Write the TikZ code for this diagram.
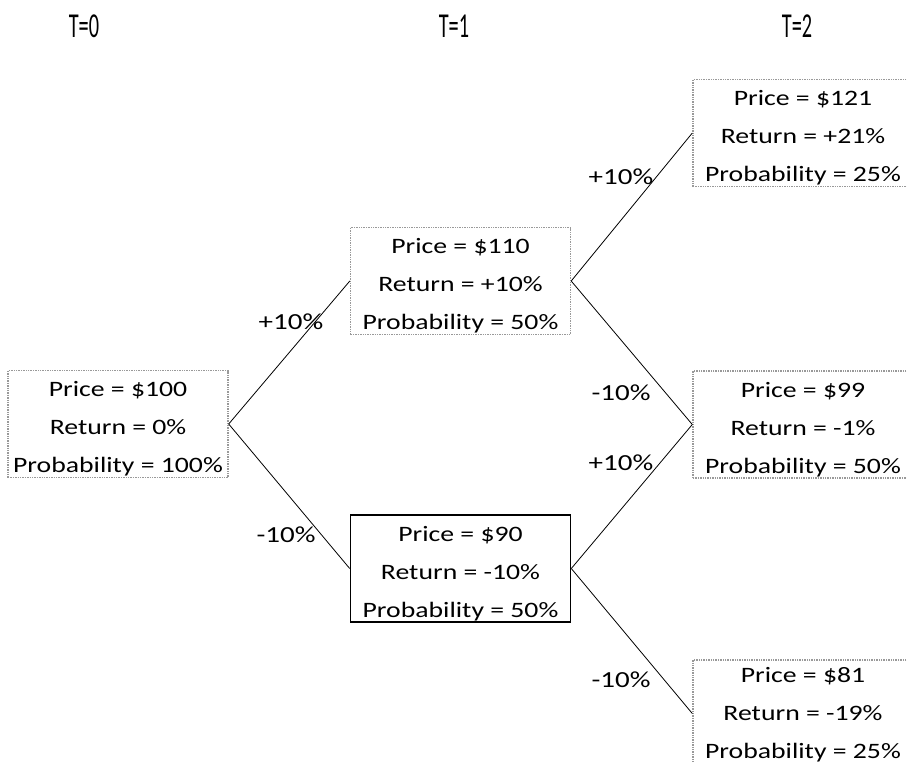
\documentclass[tikz,border=0pt]{standalone}
\usepackage{fontspec}
\setmainfont{Carlito}
\newcommand{\wl}[1]{\scalebox{1.26}[1]{#1}}
\newcommand{\wh}[1]{\scalebox{0.58}[1]{\fontsize{35}{35}\selectfont #1}}
\begin{document}
\begin{tikzpicture}[x=1pt,y=-1pt,
  box/.style={draw=gray!80, densely dotted, line width=1.4pt, minimum width=220pt, minimum height=107pt, inner sep=0pt},
  solidbox/.style={box, draw=black, solid, line width=1.6pt},
  btxt/.style={inner sep=0pt, align=center, font=\fontsize{22}{38}\selectfont, text=black, yshift=-5pt},
  lbl/.style={font=\fontsize{23}{24}\selectfont, inner sep=0pt},
  hdr/.style={inner sep=0pt},
  edge/.style={draw=black, line width=0.8pt}]
\useasboundingbox (0,0) rectangle (907,761);
\clip (0,0) rectangle (907,761);
\node[hdr] (h0) at (84,26) {\wh{T=0}};
\node[hdr] (h1) at (454,26) {\wh{T=1}};
\node[hdr] (h2) at (797,26) {\wh{T=2}};

\node[box, label={[btxt]center:\wl{Price = \$100}\\\wl{Return = 0\%}\\\wl{Probability = 100\%}}] (b0) at (118,424) {};
\node[box, label={[btxt]center:\wl{Price = \$110}\\\wl{Return = +10\%}\\\wl{Probability = 50\%}}] (b1u) at (460.5,281) {};
\node[solidbox, label={[btxt]center:\wl{Price = \$90}\\\wl{Return = -10\%}\\\wl{Probability = 50\%}}] (b1d) at (460.5,568.5) {};
\node[box, label={[btxt]center:\wl{Price = \$121}\\\wl{Return = +21\%}\\\wl{Probability = 25\%}}] (b2u) at (803,133) {};
\node[box, label={[btxt]center:\wl{Price = \$99}\\\wl{Return = -1\%}\\\wl{Probability = 50\%}}] (b2m) at (803,424.5) {};
\node[box, label={[btxt, yshift=4pt]center:\wl{Price = \$81}\\\wl{Return = -19\%}\\\wl{Probability = 25\%}}] (b2d) at (803,713.5) {};

\draw[edge] (b0.east) -- (b1u.west);
\draw[edge] (b0.east) -- (b1d.west);
\draw[edge] (b1u.east) -- (b2u.west);
\draw[edge] (b1u.east) -- (b2m.west);
\draw[edge] (b1d.east) -- (b2m.west);
\draw[edge] (b1d.east) -- (b2d.west);

\node[lbl] (l1) at (291,322) {\wl{+10\%}};
\node[lbl] (l2) at (286,535) {\wl{-10\%}};
\node[lbl] (l3) at (621,177) {\wl{+10\%}};
\node[lbl] (l4) at (621,393) {\wl{-10\%}};
\node[lbl] (l5) at (621,463) {\wl{+10\%}};
\node[lbl] (l6) at (621,680) {\wl{-10\%}};
\end{tikzpicture}
\end{document}
